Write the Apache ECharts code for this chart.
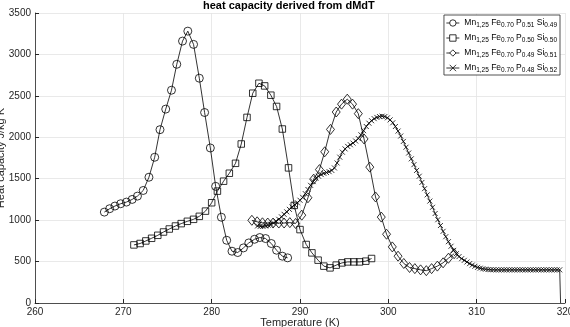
<!DOCTYPE html>
<html>
<head>
<meta charset="utf-8">
<script src="https://cdn.jsdelivr.net/npm/echarts@6/dist/echarts.min.js"></script>
<style>
  html, body { margin: 0; padding: 0; background: #fff; }
  #chart { width: 570px; height: 327px; }
</style>
</head>
<body>
<div id="chart"></div>
<script>
'use strict';

// Mn1,25 Fe0.70 P0.51 Si0.49 (circles)
var circleT = [267.85, 268.45, 269.05, 269.7, 270.35, 271.0, 271.6, 272.25, 272.9, 273.55,
    274.15, 274.8, 275.45, 276.05, 276.7, 277.3, 277.95, 278.6, 279.2, 279.85,
    280.45, 281.1, 281.7, 282.3, 282.95, 283.6, 284.2, 284.85, 285.45, 286.1,
    286.75, 287.35, 288.0, 288.6];
var circleV = [1097, 1138, 1170, 1198, 1218, 1250, 1290, 1358, 1518, 1759,
    2092, 2340, 2568, 2881, 3161, 3281, 3121, 2713, 2299, 1871,
    1408, 1035, 757, 625, 609, 665, 725, 769, 790, 778,
    718, 637, 565, 545];

// Mn1,25 Fe0.70 P0.50 Si0.50 (squares)
var squareT = [271.2, 271.9, 272.55, 273.2, 273.9, 274.55, 275.2, 275.9, 276.55, 277.25,
    277.95, 278.6, 279.3, 280.0, 280.65, 281.35, 282.0, 282.7, 283.35, 284.0,
    284.65, 285.35, 286.0, 286.7, 287.35, 288.0, 288.7, 289.35, 290.0, 290.7,
    291.35, 292.05, 292.7, 293.4, 294.1, 294.75, 295.4, 296.1, 296.75, 297.45,
    298.1];
var squareV = [701, 718, 749, 781, 817, 857, 893, 929, 958, 986,
    1010, 1046, 1109, 1210, 1350, 1470, 1566, 1686, 1919, 2240,
    2532, 2652, 2620, 2508, 2372, 2100, 1631, 1178, 886, 706,
    605, 517, 445, 424, 457, 484, 496, 496, 496, 505,
    537];

// Mn1,25 Fe0.70 P0.49 Si0.51 (diamonds)
var diamondT = [284.55, 285.15, 285.75, 286.35, 286.95, 287.6, 288.2, 288.85, 289.5, 290.2,
    290.9, 291.55, 292.2, 292.8, 293.45, 294.1, 294.7, 295.35, 295.95, 296.6,
    297.25, 297.9, 298.55, 299.2, 299.8, 300.45, 301.1, 301.75, 302.4, 303.0,
    303.65, 304.3, 304.9, 305.55, 306.2, 306.8, 307.45];
var diamondV = [998, 980, 968, 965, 965, 965, 965, 970, 960, 1060,
    1270, 1495, 1610, 1825, 2095, 2305, 2400, 2460, 2400, 2285,
    1980, 1640, 1280, 1037, 830, 677, 565, 477, 429, 415,
    400, 390, 415, 445, 485, 540, 595];

// Mn1,25 Fe0.70 P0.48 Si0.52 (crosses)
var crossT = [285.2, 285.5, 285.8, 286.1, 286.4, 286.7, 287.0, 287.3, 287.6, 287.9,
    288.2, 288.5, 288.8, 289.1, 289.4, 289.7, 290.0, 290.3, 290.6, 290.9,
    291.2, 291.5, 291.8, 292.1, 292.4, 292.7, 293.0, 293.3, 293.6, 293.9,
    294.2, 294.5, 294.8, 295.1, 295.4, 295.7, 296.0, 296.3, 296.6, 296.9,
    297.2, 297.5, 297.8, 298.1, 298.4, 298.7, 299.0, 299.3, 299.6, 299.9,
    300.2, 300.5, 300.8, 301.1, 301.4, 301.7, 302.0, 302.3, 302.6, 302.9,
    303.2, 303.5, 303.8, 304.1, 304.4, 304.7, 305.0, 305.3, 305.6, 305.9,
    306.2, 306.5, 306.8, 307.1, 307.4, 307.7, 308.0, 308.3, 308.6, 308.9,
    309.2, 309.5, 309.8, 310.1, 310.4, 310.7, 311.0, 311.3, 311.6, 311.9,
    312.2, 312.5, 312.8, 313.1, 313.4, 313.7, 314.0, 314.3, 314.6, 314.9,
    315.2, 315.5, 315.8, 316.1, 316.4, 316.7, 317.0, 317.3, 317.6, 317.9,
    318.2, 318.5, 318.8, 319.1, 319.4, 319.5];
var crossV = [930, 925, 925, 930, 940, 950, 965, 985, 1010, 1040,
    1070, 1100, 1130, 1160, 1185, 1210, 1240, 1275, 1320, 1370,
    1420, 1465, 1505, 1530, 1550, 1565, 1575, 1585, 1600, 1630,
    1690, 1760, 1820, 1860, 1890, 1910, 1930, 1955, 1985, 2030,
    2080, 2130, 2170, 2200, 2225, 2240, 2250, 2255, 2250, 2235,
    2210, 2175, 2130, 2075, 2015, 1950, 1880, 1810, 1740, 1670,
    1600, 1530, 1455, 1380, 1305, 1230, 1155, 1080, 1005, 935,
    865, 800, 740, 685, 635, 595, 560, 535, 515, 495,
    475, 458, 443, 430, 420, 413, 408, 404, 402, 401,
    400, 400, 400, 400, 400, 400, 400, 400, 400, 400,
    400, 400, 400, 400, 400, 400, 400, 400, 400, 400,
    400, 400, 400, 400, 400, 0];

var seriesNames = ['P0.51', 'P0.50', 'P0.49', 'P0.48'];
var legendSubs = [
    ['1,25', '0.70', '0.51', '0.49'],
    ['1,25', '0.70', '0.50', '0.50'],
    ['1,25', '0.70', '0.49', '0.51'],
    ['1,25', '0.70', '0.48', '0.52']
];

function pairs(t, v) {
    return t.map(function (x, i) {
        return [x, v[i]];
    });
}

var crossData = pairs(crossT, crossV);
// last point is the drop to zero, drawn without a marker
crossData[crossData.length - 1] = { value: crossData[crossData.length - 1], symbol: 'none' };

var chart = echarts.init(document.getElementById('chart'), null, { renderer: 'canvas' });

function makeSeries(name, data, symbol, size) {
    return {
        name: name,
        type: 'line',
        data: data,
        symbol: symbol,
        symbolSize: size,
        showAllSymbol: true,
        lineStyle: { color: '#000', width: 0.8 },
        itemStyle: { color: 'rgba(0,0,0,0)', borderColor: '#000', borderWidth: 0.8 },
        emphasis: { disabled: true }
    };
}

var option = {
    animation: false,
    backgroundColor: '#fff',
    textStyle: { fontFamily: 'Liberation Sans, Arial, sans-serif' },
    title: {
        text: 'heat capacity derived from dMdT',
        left: 203,
        top: 0,
        padding: 0,
        textStyle: { fontSize: 11, fontWeight: 'bold', color: '#000' }
    },
    legend: {
        orient: 'vertical',
        right: 10,
        top: 15,
        padding: [2, 3, 1, 2],
        itemGap: 3,
        itemWidth: 13,
        itemHeight: 8,
        borderColor: '#262626',
        borderWidth: 0.8,
        backgroundColor: '#fff',
        itemStyle: { color: '#fff', borderColor: '#000', borderWidth: 0.8 },
        lineStyle: { color: '#000', width: 0.8 },
        data: seriesNames,
        formatter: function (name) {
            var s = legendSubs[seriesNames.indexOf(name)];
            return '{n|Mn}{s|' + s[0] + '}{n| Fe}{s|' + s[1] + '}{n| P}{s|' + s[2] + '}{n| Si}{s|' + s[3] + '}';
        },
        textStyle: {
            rich: {
                n: { fontSize: 8.5, color: '#000', lineHeight: 10 },
                s: { fontSize: 6.5, color: '#000', padding: [5, 0, 0, 0], lineHeight: 10 }
            }
        }
    },
    grid: { left: 35, right: 5, top: 13, bottom: 24, outerBoundsMode: 'none', containLabel: false },
    xAxis: {
        type: 'value',
        min: 260,
        max: 320,
        interval: 10,
        name: 'Temperature (K)',
        nameLocation: 'middle',
        nameGap: 14,
        nameMoveOverlap: false,
        nameTextStyle: { fontSize: 11, color: '#262626' },
        axisLine: { lineStyle: { color: '#262626', width: 0.8 } },
        axisTick: { inside: true, length: 4, lineStyle: { color: '#262626' } },
        axisLabel: { fontSize: 10, color: '#262626', margin: 4 },
        splitLine: { show: true, lineStyle: { color: '#e3e3e3', width: 0.8 } }
    },
    yAxis: {
        type: 'value',
        min: 0,
        max: 3500,
        interval: 500,
        name: 'Heat capacity J/kg K',
        nameLocation: 'middle',
        nameGap: 29,
        nameMoveOverlap: false,
        nameTextStyle: { fontSize: 11, color: '#262626' },
        axisLine: { show: true, lineStyle: { color: '#262626', width: 0.8 } },
        axisTick: { show: true, inside: true, length: 4, lineStyle: { color: '#262626' } },
        axisLabel: {
            fontSize: 10,
            color: '#262626',
            margin: 4,
            formatter: function (v) { return String(v); }
        },
        splitLine: { show: true, lineStyle: { color: '#e3e3e3', width: 0.8 } }
    },
    series: [
        makeSeries(seriesNames[0], pairs(circleT, circleV), 'circle', 8),
        makeSeries(seriesNames[1], pairs(squareT, squareV), 'rect', 6.5),
        makeSeries(seriesNames[2], pairs(diamondT, diamondV), 'diamond', [8, 10]),
        makeSeries(seriesNames[3], crossData, 'path://M0,0L10,10M10,0L0,10', 5)
    ]
};

chart.setOption(option);
</script>
</body>
</html>
